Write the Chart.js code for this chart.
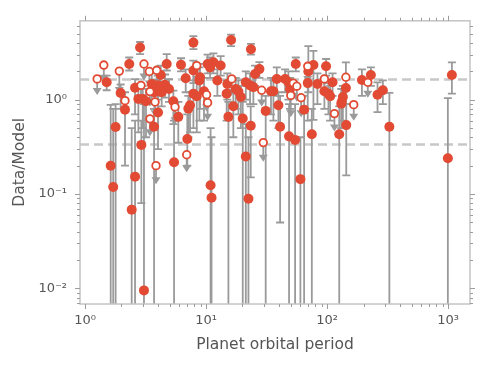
<!DOCTYPE html>
<html>
<head>
<meta charset="utf-8">
<script src="https://cdn.jsdelivr.net/npm/chart.js@4.4.0/dist/chart.umd.min.js"></script>
<style>
  html, body { margin: 0; padding: 0; background: #fff; }
  #wrap { width: 488px; height: 366px; }
</style>
</head>
<body>
<div id="wrap"><canvas id="c"></canvas></div>
<script>
// measured points (filled) with their error bar bounds
const period = [1.51, 2.32, 2.85, 1.97, 2.14, 1.79, 1.63, 1.71, 2.59, 2.76, 3.00, 3.19, 3.56, 4.22, 3.99, 4.58, 4.94, 3.74, 4.30, 4.01,
  3.72, 2.92, 3.07, 4.73, 5.37, 5.90, 6.21, 6.79, 7.14, 7.37, 7.00, 5.44, 7.86, 7.86, 8.92, 8.81, 7.86, 8.38, 9.62, 10.3,
  10.8, 11.5, 13.2, 12.4, 15.0, 14.8, 16.1, 16.8, 15.3, 17.6, 18.5, 19.4, 20.1, 21.3, 23.4, 23.5, 21.3, 23.1, 24.6, 25.4,
  27.6, 31.1, 34.4, 36.0, 38.4, 40.9, 39.6, 45.0, 47.9, 49.4, 48.5, 54.4, 55.1, 64.6, 60.2, 70.0, 69.2, 77.1, 74.8, 83.2,
  98.1, 95.0, 111, 102.6, 106, 143, 135, 132, 131, 144, 126, 194, 230, 261, 289, 327, 1074, 995, 2.43, 2.59,
  10.9, 11.1, 22.4];
const ratio = [1.53, 2.39, 3.57, 1.18, 0.785, 0.513, 0.200, 0.119, 1.34, 1.02, 1.02, 0.962, 1.47, 1.83, 1.42, 1.44, 1.30, 1.20, 1.20, 0.731,
  0.517, 0.332, 0.00953, 2.39, 0.962, 0.658, 2.35, 1.69, 0.805, 0.874, 0.384, 0.217, 4.03, 2.04, 1.73, 1.60, 1.16, 1.09, 1.23, 2.39,
  2.20, 2.49, 2.30, 1.60, 1.47, 1.16, 4.30, 0.853, 0.658, 1.30, 1.22, 1.07, 0.632, 0.250, 0.530, 3.43, 1.53, 1.42, 1.36, 1.87,
  2.11, 0.761, 1.23, 1.23, 1.66, 0.517, 0.874, 1.66, 1.53, 1.30, 0.409, 0.375, 2.39, 0.785, 0.144, 1.99, 1.50, 2.33, 0.430, 1.47,
  2.26, 1.23, 1.53, 1.16, 1.09, 1.33, 1.07, 0.946, 0.908, 0.538, 0.430, 1.62, 1.83, 1.13, 1.26, 0.517, 1.83, 0.240, 0.0684, 0.153,
  0.124, 0.0914, 0.0893];
const ratioLow = [1.26, 2.04, 3.04, 0.80, 0.20, 0.001, 0.001, 0.001, 0.70, 0.45, 0.50, 0.40, 0.90, 1.40, 1.00, 1.05, 0.95, 0.80, 0.85, 0.30,
  0.001, 0.08, 0.001, 2.04, 0.55, 0.35, 2.00, 1.20, 0.40, 0.45, 0.20, 0.001, 3.43, 1.50, 0.80, 0.60, 0.50, 0.45, 0.60, 1.90,
  1.70, 1.90, 1.80, 1.10, 1.00, 0.60, 3.70, 0.40, 0.001, 0.80, 0.70, 0.50, 0.001, 0.001, 0.15, 3.00, 1.00, 0.90, 0.90, 1.40,
  1.70, 0.001, 0.70, 0.60, 1.10, 0.05, 0.50, 1.20, 1.00, 0.80, 0.001, 0.001, 2.00, 0.001, 0.001, 1.20, 0.60, 0.61, 0.001, 0.90,
  1.80, 0.80, 1.10, 0.70, 0.60, 0.90, 0.60, 0.50, 0.50, 0.158, 0.001, 1.10, 1.40, 0.74, 0.90, 0.001, 1.16, 0.001, 0.001, 0.001,
  0.001, 0.001, 0.001];
const ratioHigh = [1.80, 2.80, 4.09, 1.45, 1.20, 0.90, 0.88, 0.80, 1.65, 1.35, 1.40, 1.30, 1.90, 2.30, 1.80, 1.85, 1.65, 1.60, 1.55, 1.10,
  0.80, 0.60, 0.90, 3.04, 1.25, 0.95, 2.75, 2.10, 1.10, 1.20, 0.70, 0.60, 4.73, 2.60, 2.40, 2.20, 1.60, 1.50, 1.70, 3.00,
  2.80, 3.10, 2.90, 2.10, 1.90, 1.60, 4.90, 1.20, 0.95, 1.70, 1.60, 1.40, 0.95, 0.55, 0.85, 3.90, 2.00, 1.90, 1.80, 2.30,
  2.50, 1.10, 1.70, 1.60, 2.20, 1.10, 1.20, 2.10, 2.00, 1.70, 0.90, 0.90, 2.80, 1.10, 0.40, 3.70, 2.00, 3.30, 0.80, 1.90,
  2.70, 1.60, 1.90, 1.50, 1.40, 2.49, 1.40, 1.30, 1.30, 0.90, 0.85, 2.10, 2.20, 1.53, 1.60, 1.18, 2.49, 1.04, 0.50, 0.60,
  0.50, 0.40, 0.40];

// upper limits (open circles with arrows)
const limPeriod = [1.26, 1.43, 1.92, 3.07, 2.14, 2.90, 3.40, 3.91, 3.44, 3.79, 3.44, 5.54, 6.92, 3.86, 8.38, 10.1, 10.3, 16.3, 28.8, 29.7,
  52.6, 56.2, 50.1, 61.0, 69.2, 95.0, 115, 143, 166, 217];
const limRatio = [1.66, 2.33, 2.01, 2.39, 0.977, 1.42, 1.99, 2.05, 1.22, 0.946, 0.627, 0.838, 0.261, 0.200, 2.30, 1.13, 0.930, 1.66, 1.26, 0.351,
  1.50, 1.39, 1.11, 1.05, 2.26, 1.66, 0.713, 1.73, 0.887, 1.53];
const limArrowTo = [1.12, 1.55, 1.15, 1.60, 0.72, 0.95, 1.35, 1.40, 0.85, 0.65, 0.41, 0.55, 0.17, 0.127, 1.50, 0.75, 0.60, 1.10, 0.85, 0.22,
  1.00, 0.95, 0.65, 0.65, 1.50, 1.10, 0.46, 1.15, 0.60, 1.05];

const xTicks = [1, 10, 100, 1000];
const yTicks = [0.01, 0.1, 1];
const refLines = [1.66, 0.34];

const RED = '#e24a33';
const BAR = '#9a9a9a';
const TEXT = '#555555';

const SUP = { '0': '\u2070', '1': '\u00b9', '2': '\u00b2', '3': '\u00b3', '-': '\u207b' };
function powLabel(v) {
  const e = Math.round(Math.log10(v));
  return '10' + String(e).split('').map(c => SUP[c]).join('');
}

// error bars, limit arrows, dashed reference lines
const errorBars = {
  id: 'errorBars',
  beforeDatasetsDraw(chart) {
    const { ctx, chartArea: a, scales: { x, y } } = chart;
    ctx.save();
    ctx.beginPath();
    ctx.rect(a.left, a.top, a.right - a.left, a.bottom - a.top);
    ctx.clip();

    ctx.strokeStyle = '#c8c8c8';
    ctx.lineWidth = 2.5;
    ctx.setLineDash([9, 5]);
    refLines.forEach(v => {
      const py = Math.round(y.getPixelForValue(v)) + 0.5;
      ctx.beginPath();
      ctx.moveTo(a.left, py);
      ctx.lineTo(a.right, py);
      ctx.stroke();
    });
    ctx.setLineDash([]);

    ctx.strokeStyle = BAR;
    ctx.fillStyle = BAR;
    ctx.lineWidth = 1.8;
    const cap = 4;
    period.forEach((p, i) => {
      const px = x.getPixelForValue(p);
      const lo = y.getPixelForValue(ratioLow[i]);
      const hi = y.getPixelForValue(ratioHigh[i]);
      ctx.beginPath();
      ctx.moveTo(px, lo); ctx.lineTo(px, hi);
      ctx.moveTo(px - cap, hi); ctx.lineTo(px + cap, hi);
      ctx.moveTo(px - cap, lo); ctx.lineTo(px + cap, lo);
      ctx.stroke();
    });

    limPeriod.forEach((p, i) => {
      const px = x.getPixelForValue(p);
      const py = y.getPixelForValue(limRatio[i]);
      const tip = y.getPixelForValue(limArrowTo[i]);
      ctx.beginPath();
      ctx.moveTo(px, py); ctx.lineTo(px, tip - 6);
      ctx.stroke();
      ctx.beginPath();
      ctx.moveTo(px - 4.5, tip - 7);
      ctx.lineTo(px + 4.5, tip - 7);
      ctx.lineTo(px, tip);
      ctx.closePath();
      ctx.fill();
    });
    ctx.restore();
  },
  afterDatasetsDraw(chart) {
    const { ctx, chartArea: a, scales: { x, y } } = chart;
    ctx.save();
    ctx.strokeStyle = '#c4c4c4';
    ctx.lineWidth = 1.5;
    ctx.strokeRect(a.left, a.top, a.right - a.left, a.bottom - a.top);

    ctx.strokeStyle = '#9c9c9c';
    ctx.lineWidth = 1;
    const logTicks = (scale, cb) => {
      const lo = Math.floor(Math.log10(scale.min));
      const hi = Math.ceil(Math.log10(scale.max));
      for (let d = lo; d <= hi; d++) {
        for (let m = 1; m < 10; m++) {
          const v = m * Math.pow(10, d);
          if (v >= scale.min && v <= scale.max) cb(scale.getPixelForValue(v), m === 1 ? 5 : 3);
        }
      }
    };
    ctx.beginPath();
    logTicks(x, (px, len) => {
      px = Math.round(px) + 0.5;
      ctx.moveTo(px, a.bottom); ctx.lineTo(px, a.bottom + len);
      ctx.moveTo(px, a.top); ctx.lineTo(px, a.top - len);
    });
    logTicks(y, (py, len) => {
      py = Math.round(py) + 0.5;
      ctx.moveTo(a.left, py); ctx.lineTo(a.left - len, py);
      ctx.moveTo(a.right, py); ctx.lineTo(a.right + len, py);
    });
    ctx.stroke();
    ctx.restore();
  }
};

new Chart(document.getElementById('c'), {
  type: 'scatter',
  data: {
    datasets: [
      {
        label: 'upper limits',
        data: limPeriod.map((p, i) => ({ x: p, y: limRatio[i] })),
        pointRadius: 3.8,
        pointBorderWidth: 1.8,
        pointBackgroundColor: '#ffffff',
        pointBorderColor: RED
      },
      {
        label: 'measured',
        data: period.map((p, i) => ({ x: p, y: ratio[i] })),
        pointRadius: 5,
        pointBorderWidth: 0,
        pointBackgroundColor: RED,
        pointBorderColor: RED
      }
    ]
  },
  options: {
    responsive: true,
    maintainAspectRatio: false,
    animation: false,
    layout: { padding: { top: 18, right: 18, left: 0, bottom: 0 } },
    plugins: { legend: { display: false }, tooltip: { enabled: false } },
    scales: {
      x: {
        type: 'logarithmic',
        min: 0.909,
        max: 1516,
        grid: { display: false, drawTicks: false },
        border: { display: false },
        afterBuildTicks: s => { s.ticks = xTicks.map(v => ({ value: v })); },
        afterFit: s => { s.height = 62; },
        ticks: {
          autoSkip: false,
          maxRotation: 0,
          padding: 9,
          color: TEXT,
          font: { family: 'DejaVu Sans', size: 13 },
          callback: v => powLabel(v)
        },
        title: {
          display: true,
          text: 'Planet orbital period',
          color: TEXT,
          font: { family: 'DejaVu Sans', size: 15.5 },
          padding: { top: 0, bottom: 12 }
        }
      },
      y: {
        type: 'logarithmic',
        min: 0.00684,
        max: 6.86,
        grid: { display: false, drawTicks: false },
        border: { display: false },
        afterBuildTicks: s => { s.ticks = yTicks.map(v => ({ value: v })); },
        afterFit: s => { s.width = 80; },
        ticks: {
          autoSkip: false,
          padding: 13,
          color: TEXT,
          font: { family: 'DejaVu Sans', size: 13 },
          callback: v => powLabel(v)
        },
        title: {
          display: true,
          text: 'Data/Model',
          color: TEXT,
          font: { family: 'DejaVu Sans', size: 15.5 },
          padding: { top: 11, bottom: 0 }
        }
      }
    }
  },
  plugins: [errorBars]
});
</script>
</body>
</html>
